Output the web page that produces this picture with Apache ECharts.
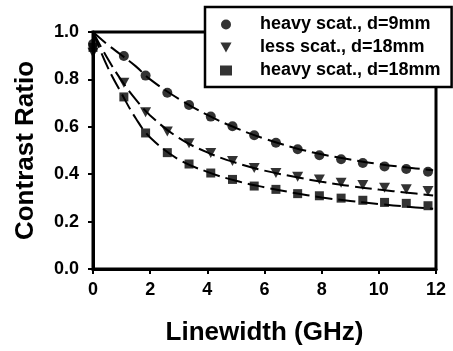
<!DOCTYPE html>
<html>
<head>
<meta charset="utf-8">
<script src="https://cdn.jsdelivr.net/npm/echarts@6/dist/echarts.min.js"></script>
<style>html,body{margin:0;padding:0;background:#fff}#c{width:453px;height:351px}</style>
</head>
<body>
<div id="c"></div>
<script>
// Measured data (Linewidth in GHz)
var xData = [0, 1.08, 1.84, 2.60, 3.36, 4.12, 4.88, 5.64, 6.40, 7.16, 7.92, 8.68, 9.44, 10.20, 10.96, 11.72];
var heavy9 = [0.949, 0.899, 0.816, 0.744, 0.692, 0.643, 0.602, 0.564, 0.533, 0.505, 0.480, 0.463, 0.447, 0.433, 0.422, 0.410];
var less18 = [0.912, 0.786, 0.661, 0.580, 0.531, 0.489, 0.456, 0.426, 0.405, 0.389, 0.378, 0.364, 0.354, 0.343, 0.336, 0.329];
var heavy18 = [0.935, 0.726, 0.574, 0.491, 0.443, 0.405, 0.378, 0.350, 0.336, 0.318, 0.309, 0.299, 0.290, 0.281, 0.277, 0.267];
// Fitted curves (dashed)
var fitX = [0, 0.5, 1, 1.5, 2, 3, 4, 5, 6, 7, 8, 9, 10, 11, 11.9];
var fitHeavy9 = [1.0, 0.948, 0.902, 0.855, 0.800, 0.718, 0.650, 0.595, 0.550, 0.513, 0.484, 0.462, 0.443, 0.428, 0.417];
var fitLess18 = [1.0, 0.890, 0.795, 0.715, 0.648, 0.553, 0.492, 0.448, 0.415, 0.390, 0.368, 0.350, 0.335, 0.322, 0.310];
var fitHeavy18 = [1.0, 0.855, 0.740, 0.635, 0.555, 0.462, 0.410, 0.372, 0.345, 0.322, 0.302, 0.287, 0.274, 0.263, 0.254];
var seriesNames = ['heavy scat., d=9mm', 'less scat., d=18mm', 'heavy scat., d=18mm'];
var xTicks = [0, 2, 4, 6, 8, 10, 12];

function pairs(xs, ys) { return xs.map(function (x, i) { return [x, ys[i]]; }); }
var FONT = "'Liberation Sans', Arial, Helvetica, sans-serif";
var TRI = 'path://M0,0 L10,0 L5,9 Z';

var chart = echarts.init(document.getElementById('c'), null, {renderer: 'canvas'});
function fitSeries(ys) {
  return {
    type: 'line', data: pairs(fitX, ys), smooth: 0.4, showSymbol: false, symbol: 'none',
    lineStyle: {color: '#000', width: 2, type: [17, 6]}, silent: true, z: 2
  };
}
function scat(name, ys, sym, size) {
  return {
    name: name, type: 'scatter', data: pairs(xData, ys), symbol: sym, symbolSize: size,
    itemStyle: {color: '#000'}, z: 3
  };
}
chart.setOption({
  animation: false,
  backgroundColor: '#fff',
  grid: {left: 93, right: 17, top: 32, bottom: 78, show: true, borderColor: '#000', borderWidth: 3, backgroundColor: 'transparent'},
  xAxis: {
    type: 'value', min: 0, max: 12, interval: 2,
    name: 'Linewidth (GHz)', nameLocation: 'middle', nameGap: 51,
    nameTextStyle: {fontFamily: FONT, fontWeight: 'bold', fontSize: 26, color: '#000'},
    axisLine: {lineStyle: {color: '#000', width: 3}},
    axisTick: {length: 5, lineStyle: {color: '#000', width: 2}},
    axisLabel: {margin: 12, fontFamily: FONT, fontWeight: 'bold', fontSize: 18, color: '#000',
      formatter: function (v) { return xTicks.indexOf(v) >= 0 ? String(v) : ''; }},
    splitLine: {show: false}
  },
  yAxis: {
    type: 'value', min: 0, max: 1, interval: 0.2,
    name: 'Contrast Ratio', nameLocation: 'middle', nameGap: 54,
    nameTextStyle: {fontFamily: FONT, fontWeight: 'bold', fontSize: 26, color: '#000'},
    axisLine: {lineStyle: {color: '#000', width: 3}},
    axisTick: {length: 5, lineStyle: {color: '#000', width: 2}},
    axisLabel: {margin: 14, fontFamily: FONT, fontWeight: 'bold', fontSize: 18, color: '#000',
      formatter: function (v) { return v.toFixed(1); }},
    splitLine: {show: false}
  },
  legend: {
    data: [
      {name: seriesNames[0], icon: 'circle'},
      {name: seriesNames[1], icon: TRI},
      {name: seriesNames[2], icon: 'rect'}
    ],
    orient: 'vertical', left: 205, top: 7, z: 10,
    backgroundColor: '#fff', borderColor: '#000', borderWidth: 2.5, borderRadius: 0,
    padding: [8, 11, 7, 15], itemGap: 4, itemWidth: 12, itemHeight: 10,
    formatter: function (n) { return '{s|}' + n; },
    textStyle: {fontFamily: FONT, fontWeight: 'bold', fontSize: 18, color: '#000', lineHeight: 19,
      rich: {s: {width: 23}}},
    selectedMode: false
  },
  series: [
    fitSeries(fitHeavy9), fitSeries(fitLess18), fitSeries(fitHeavy18),
    scat(seriesNames[0], heavy9, 'circle', 10),
    scat(seriesNames[1], less18, TRI, [11, 10]),
    scat(seriesNames[2], heavy18, 'rect', 9)
  ]
});
</script>
</body>
</html>
